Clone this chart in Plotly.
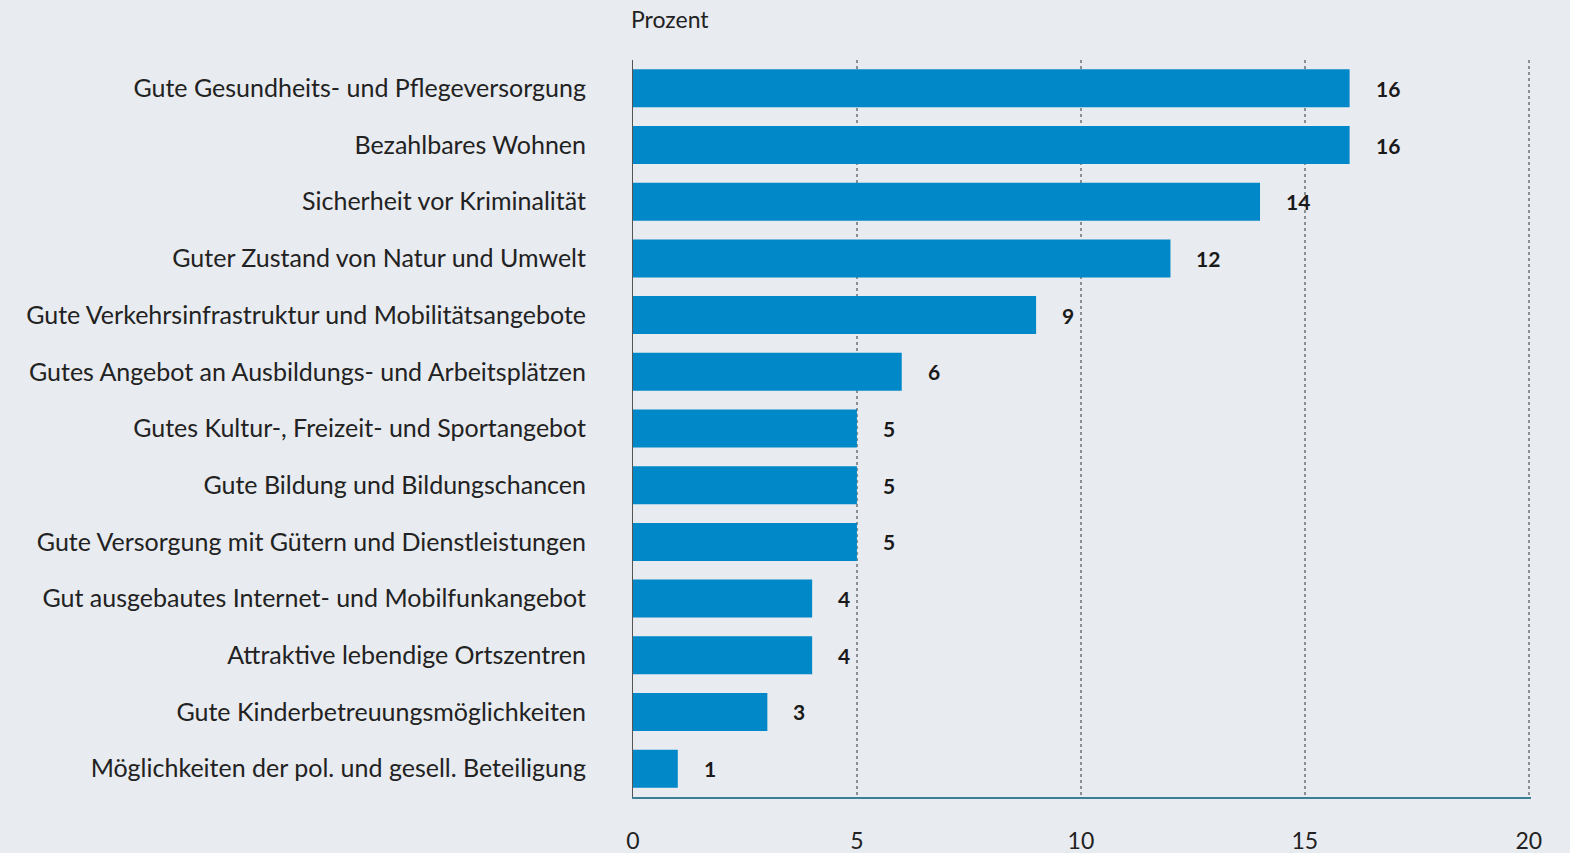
import plotly.graph_objects as go

categories = [
    "Gute Gesundheits- und Pflegeversorgung",
    "Bezahlbares Wohnen",
    "Sicherheit vor Kriminalität",
    "Guter Zustand von Natur und Umwelt",
    "Gute Verkehrsinfrastruktur und Mobilitätsangebote",
    "Gutes Angebot an Ausbildungs- und Arbeitsplätzen",
    "Gutes Kultur-, Freizeit- und Sportangebot",
    "Gute Bildung und Bildungschancen",
    "Gute Versorgung mit Gütern und Dienstleistungen",
    "Gut ausgebautes Internet- und Mobilfunkangebot",
    "Attraktive lebendige Ortszentren",
    "Gute Kinderbetreuungsmöglichkeiten",
    "Möglichkeiten der pol. und gesell. Beteiligung",
]
values = [16, 16, 14, 12, 9, 6, 5, 5, 5, 4, 4, 3, 1]
x_ticks = [0, 5, 10, 15, 20]

FONT = "Lato"
BG = "#E8EBEF"

fig = go.Figure()
fig.add_trace(go.Bar(
    x=values, y=categories, orientation="h",
    marker=dict(color="#0088C8", line=dict(width=0)),
    hoverinfo="x+y",
))

for c, v in zip(categories, values):
    fig.add_annotation(x=v, y=c, text=f"<b>{v}</b>", showarrow=False,
                       xanchor="left", xshift=24,
                       font=dict(family=FONT, size=21, color="#1a1a1a"))

fig.add_annotation(xref="paper", yref="paper", x=0, y=1, xanchor="left", yanchor="bottom",
                   xshift=-4, yshift=25, text="Prozent", showarrow=False,
                   font=dict(family=FONT, size=23, color="#222"))

fig.update_layout(
    width=1570, height=853,
    paper_bgcolor=BG, plot_bgcolor=BG,
    margin=dict(l=633, r=39, t=60, b=56, autoexpand=False),
    bargap=0.33,
    showlegend=False,
    font=dict(family=FONT, size=22, color="#222"),
)
fig.update_xaxes(
    range=[0, 20.05], tickvals=x_ticks, ticktext=[str(t) for t in x_ticks],
    showgrid=True, gridcolor="#8a8f95", griddash="dot", gridwidth=1.5,
    zeroline=False, showline=True, linecolor="#3A7F94", linewidth=2,
    ticks="", ticklabelstandoff=22, automargin=False,
    tickfont=dict(family=FONT, size=23, color="#222"),
)
fig.update_yaxes(
    autorange="reversed", showgrid=False, zeroline=False,
    showline=True, linecolor="#555", linewidth=1,
    ticks="", ticklabelstandoff=41, automargin=False,
    tickfont=dict(family=FONT, size=25, color="#222"),
)

fig.write_html("out.html", config={"displayModeBar": False},
               post_script="document.body.style.margin='0';document.body.style.overflow='hidden';")
